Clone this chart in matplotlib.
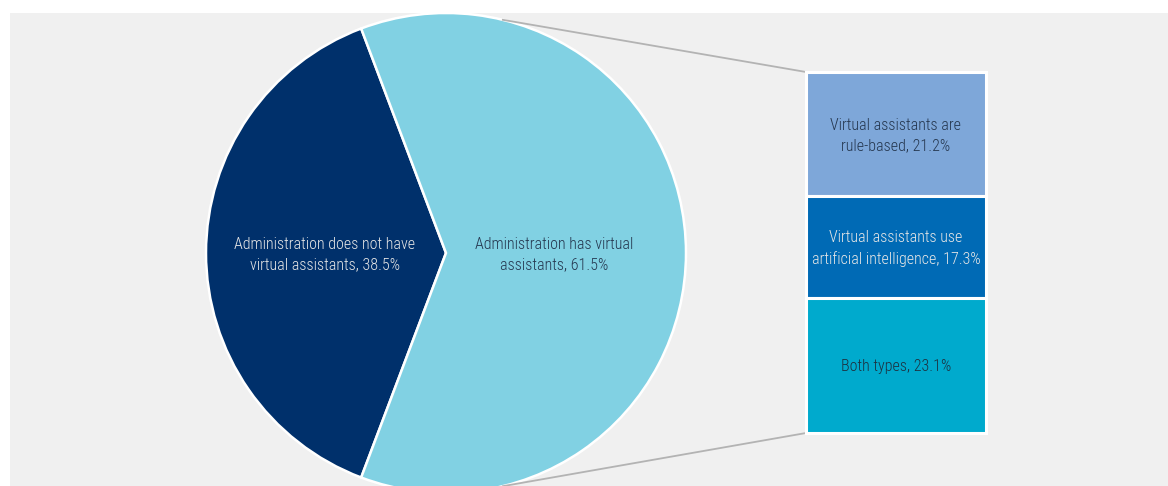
import matplotlib
matplotlib.use("Agg")
import matplotlib.pyplot as plt
import numpy as np

# Main pie: does the administration have virtual assistants?
pie_labels = ["Administration does not have\nvirtual assistants, 38.5%",
              "Administration has virtual\nassistants, 61.5%"]
pie_values = [38.5, 61.5]
pie_colors = ["#00306b", "#81d1e3"]
pie_text_colors = ["#e6e6e6", "#25374f"]

# Breakdown bar: type of virtual assistant (top to bottom)
bar_labels = ["Virtual assistants are\nrule-based, 21.2%",
              "Virtual assistants use\nartificial intelligence, 17.3%",
              "Both types, 23.1%"]
bar_values = [21.2, 17.3, 23.1]
bar_colors = ["#7ea7d9", "#006ab5", "#00aacd"]
bar_text_colors = ["#25374f", "#e6e6e6", "#1d3140"]

FONT = ["Roboto Condensed", "DejaVu Sans"]
FS = 11.5
W, H = 1168, 486
fig = plt.figure(figsize=(W / 100, H / 100), dpi=100, facecolor="white")
# grey plotting panel, axis units equal to pixels
ax = fig.add_axes([10 / W, 0, (W - 10) / W, (H - 13) / H])
ax.set_facecolor("#f0f0f0")

cx, cy, r = 446, 233, 240
start = 180 - pie_values[0] * 3.6 / 2
ax.pie(pie_values, colors=pie_colors, center=(cx, cy), radius=r,
       startangle=start, counterclock=True, frame=True,
       wedgeprops=dict(edgecolor="white", linewidth=1.8))
ax.set_xlim(10, W)
ax.set_ylim(0, H - 13)
ax.set_aspect("equal")
ax.set_xticks([])
ax.set_yticks([])
for s in ax.spines.values():
    s.set_visible(False)

pie_text_pos = [(325, 231.5), (554, 231.5)]
for lab, (tx, ty), col in zip(pie_labels, pie_text_pos, pie_text_colors):
    ax.text(tx, ty, lab, ha="center", va="center", color=col, fontsize=FS,
            family=FONT, weight="light", linespacing=1.45)

# stacked breakdown bar
bx, bw = 896, 180
bar_top = 414
scale = (414 - 53) / sum(bar_values)
top = bar_top
for lab, v, c, tc in zip(bar_labels, bar_values, bar_colors, bar_text_colors):
    h = v * scale
    ax.bar(bx, h, width=bw, bottom=top - h, color=c, edgecolor="white",
           linewidth=2.2, zorder=3)
    ax.text(bx, top - h / 2 - 1.5, lab, ha="center", va="center", color=tc,
            fontsize=FS, family=FONT, weight="light", linespacing=1.45,
            zorder=4)
    top -= h
bar_bottom = top

# connector lines from the pie to the bar
ang = np.deg2rad(76.3)
ax.plot([cx + r * np.cos(ang), bx - bw / 2], [cy + r * np.sin(ang), bar_top],
        color="#b3b3b3", linewidth=1.3, zorder=2, clip_on=False)
ax.plot([cx + r * np.cos(-ang), bx - bw / 2], [cy + r * np.sin(-ang), bar_bottom],
        color="#b3b3b3", linewidth=1.3, zorder=2, clip_on=False)

fig.savefig("out.png", dpi=100, facecolor="white")
